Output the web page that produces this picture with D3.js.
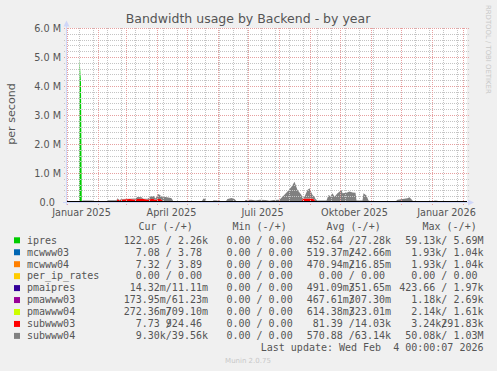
<!DOCTYPE html>
<html><head><meta charset="utf-8">
<script src="https://cdn.jsdelivr.net/npm/d3@7"></script>
<style>
html,body{margin:0;padding:0;background:#f0f0f0;}
svg{display:block;}
text{white-space:pre;}
</style></head><body>
<svg id="c" width="497" height="371"></svg>
<script>
// ---------------- data ----------------
const titleText = "Bandwidth usage by Backend - by year";
const domainStart = "2024-12-31T12:00", domainEnd = "2026-02-04T12:00";
const minorGridAnchor = "2025-01-13";
const dates = ["2024-12-31","2025-01-12T18:00","2025-01-13","2025-01-14T12:00","2025-01-15T06:00","2025-01-16","2025-01-26","2025-01-28",
 "2025-02-09","2025-02-10","2025-02-19","2025-02-20","2025-02-22","2025-02-24","2025-03-04","2025-03-10","2025-03-12","2025-03-16",
 "2025-03-18","2025-03-22","2025-03-26","2025-03-28","2025-03-30","2025-04-02","2025-04-04","2025-04-06","2025-04-09","2025-04-13",
 "2025-04-15","2025-04-16","2025-04-17","2025-05-15","2025-05-17","2025-05-19","2025-05-20","2025-05-26","2025-05-27","2025-05-31",
 "2025-06-01","2025-06-08","2025-06-10","2025-06-14","2025-06-17","2025-06-19","2025-06-27","2025-06-28","2025-07-04","2025-07-08",
 "2025-07-12","2025-07-18","2025-07-22","2025-07-26","2025-08-01","2025-08-04","2025-08-09","2025-08-13","2025-08-16","2025-08-19",
 "2025-08-23","2025-08-24","2025-08-26","2025-08-29","2025-08-31","2025-09-03","2025-09-05","2025-09-06","2025-09-08","2025-09-17",
 "2025-09-19","2025-09-21","2025-09-23","2025-09-25","2025-09-28","2025-10-02","2025-10-03","2025-10-07","2025-10-10","2025-10-13",
 "2025-10-16","2025-10-17","2025-10-23","2025-10-24","2025-10-27","2025-10-29","2025-11-01","2025-11-25","2025-11-27","2025-12-02",
 "2025-12-07","2025-12-09","2025-12-12","2025-12-13","2026-01-02","2026-01-03","2026-01-06","2026-01-07","2026-01-25","2026-01-26",
 "2026-01-28","2026-02-04"];
// values in millions of bytes per second
const ipres = [0,0,4.95,4.1,0,0,0,0, 0,0,0,0,0,0,0,0,0,0, 0,0,0,0,0,0,0,0,0,0, 0,0,0,0,0,0,0,0,0,0,
 0,0,0,0,0,0,0,0,0,0, 0,0,0,0,0,0,0,0,0,0, 0,0,0,0,0,0,0,0,0,0, 0,0,0,0,0,0,0,0,0,0, 0,0,0,0,0,0,0,0,0,0,
 0,0,0,0,0,0,0,0,0,0, 0,0];
const subwww03 = [0,0,0,0,0,0,0,0, 0,0,0,0.10,0.05,0.09,0.10,0.09,0.10,0.11, 0.10,0.09,0.10,0.10,0.08,0.10,0.10,0.05,0,0,
 0.03,0,0,0,0,0,0,0,0,0, 0,0,0,0,0,0,0,0,0,0, 0,0,0,0,0,0,0,0,0,0, 0,0.10,0.12,0.12,0.12,0.12,0.08,0,0,0,
 0,0,0,0,0,0,0,0,0,0, 0,0,0,0,0,0,0,0,0,0, 0,0,0,0,0,0,0,0,0,0, 0,0];
const subwww04 = [0.01,0.01,0,0,0.01,0.05,0.05,0.01, 0.01,0.06,0.06,0.03,0.02,0.01,0.01,0.03,0.07,0.05, 0.01,0.02,0.10,0.11,0.04,0.18,0.12,0.11,0.17,0.15,
 0.10,0.08,0.01,0.01,0.12,0.10,0.01,0.01,0.06,0.05, 0.01,0.01,0.10,0.14,0.10,0.03,0.02,0.07,0.08,0.05, 0.08,0.07,0.04,0.07,0.08,0.18,0.36,0.53,0.70,0.41,
 0.24,0.03,0.06,0.29,0.35,0.12,0.10,0.10,0.05,0.05, 0.24,0.20,0.30,0.18,0.30,0.41,0.30,0.32,0.36,0.33, 0.32,0.05,0.05,0.30,0.22,0.05,0.02,0.02,0.08,0.10,
 0.13,0.16,0.05,0.01,0.01,0.05,0.04,0.01,0.01,0.04, 0.01,0.01];

const yTickValues = [0,1e6,2e6,3e6,4e6,5e6,6e6];
const yTickLabels = ["0.0","1.0 M","2.0 M","3.0 M","4.0 M","5.0 M","6.0 M"];
const xLabelDates = ["2025-01-15","2025-04-15","2025-07-15","2025-10-15","2026-01-15"];
const xLabels = ["Januar 2025","April 2025","Juli 2025","Oktober 2025","Januar 2026"];

const legendNames = ["ipres","mcwww03","mcwww04","per_ip_rates","pmaipres","pmawww03","pmawww04","subwww03","subwww04"];
const legendColors = ["#00cc00","#0066b3","#ff8000","#ffcc00","#330099","#990099","#ccff00","#ff0000","#808080"];
const curNeg = ["122.05","7.08","7.32","0.00","14.32m","173.95m","272.36m","7.73","9.30k"];
const curPos = ["2.26k","3.78","3.89","0.00","11.11m","61.23m","709.10m","924.46","39.56k"];
const minNeg = ["0.00","0.00","0.00","0.00","0.00","0.00","0.00","0.00","0.00"];
const minPos = ["0.00","0.00","0.00","0.00","0.00","0.00","0.00","0.00","0.00"];
const avgNeg = ["452.64","519.37m","470.94m","0.00","491.09m","467.61m","614.38m","81.39","570.88"];
const avgPos = ["27.28k","242.66m","216.85m","0.00","351.65m","307.30m","323.01m","14.03k","63.14k"];
const maxNeg = ["59.13k","1.93k","1.93k","0.00","423.66","1.18k","2.14k","3.24k","50.08k"];
const maxPos = ["5.69M","1.04k","1.04k","0.00","1.97k","2.69k","1.61k","291.83k","1.03M"];
const headers = ["Cur (-/+)","Min (-/+)","Avg (-/+)","Max (-/+)"];
const lastUpdate = "Last update: Wed Feb  4 00:00:07 2026";
const footer = "Munin 2.0.75";
const watermark = "RRDTOOL / TOBI OETIKER";

// ---------------- drawing ----------------
const svg = d3.select("#c");
const FONT = "'DejaVu Sans', Verdana, sans-serif";
const MONO = "'DejaVu Sans Mono', monospace";
const TXT = "#555555";
const L = 67, R = 467, T = 28, B = 202;
const parse = s => new Date(s + (s.length === 10 ? "T00:00:00Z" : ":00Z"));

const x = d3.scaleUtc().domain([parse(domainStart), parse(domainEnd)]).range([L, R]);
const y = d3.scaleLinear().domain([0, 6e6]).range([B, T]);

svg.append("rect").attr("width",497).attr("height",371).attr("fill","#f0f0f0");
svg.append("rect").attr("x",L).attr("y",T).attr("width",R-L).attr("height",B-T).attr("fill","#ffffff");

// stacked areas
const rows = dates.map((d,i)=>({date:parse(d), ipres:ipres[i]*1e6, subwww03:subwww03[i]*1e6, subwww04:subwww04[i]*1e6}));
const keys = ["ipres","subwww03","subwww04"];
const colorOf = k => legendColors[legendNames.indexOf(k)];
const stacked = d3.stack().keys(keys)(rows);
svg.append("clipPath").attr("id","pc").append("rect").attr("x",L).attr("y",T-2).attr("width",R-L).attr("height",B-T+2);
const area = d3.area().x(d=>x(d.data.date)).y0(d=>y(d[0])).y1(d=>y(d[1])).curve(d3.curveLinear);
svg.append("g").attr("clip-path","url(#pc)").selectAll("path").data(stacked).join("path")
  .attr("d", area).attr("fill", d=>colorOf(d.key));

// grid
const grid = svg.append("g").attr("shape-rendering","crispEdges");
const minorC = "#c4c4c4", majorC = "#e6a0a0";
const px = v => Math.floor(v) + 0.5;
const hMinor = d3.range(1,30).map(i=>i*2e5).filter(v=>Math.round(v/1e5)%10!==0);
grid.selectAll(".hm").data(hMinor).join("line")
  .attr("x1",L-3).attr("x2",R+2).attr("y1",d=>Math.round(y(d))+0.5).attr("y2",d=>Math.round(y(d))+0.5)
  .attr("stroke",minorC).attr("stroke-dasharray","1,1");
const weeks = d3.utcMonday.range(parse(minorGridAnchor), x.domain()[1], 2);
grid.selectAll(".vm").data(weeks).join("line")
  .attr("x1",d=>px(x(d))).attr("x2",d=>px(x(d))).attr("y1",T).attr("y2",B+2)
  .attr("stroke",minorC).attr("stroke-dasharray","1,1");
grid.selectAll(".hM").data(yTickValues).join("line")
  .attr("x1",L-3).attr("x2",R+2).attr("y1",d=>Math.round(y(d))+0.5).attr("y2",d=>Math.round(y(d))+0.5)
  .attr("stroke",majorC).attr("stroke-dasharray","1,1");
const months = d3.utcMonth.range(x.domain()[0], x.domain()[1]);
grid.selectAll(".vM").data(months).join("line")
  .attr("x1",d=>px(x(d))).attr("x2",d=>px(x(d))).attr("y1",T).attr("y2",B+3)
  .attr("stroke",majorC).attr("stroke-dasharray","1,1");

// zero line
svg.append("line").attr("x1",L).attr("x2",R).attr("y1",201.5).attr("y2",201.5)
  .attr("stroke","#000").attr("stroke-width",1.2);

// axes
const AX = "#cfd6f8";
svg.append("line").attr("x1",66.5).attr("x2",66.5).attr("y1",B+3).attr("y2",24).attr("stroke",AX);
svg.append("path").attr("d","M63.5,26.5 L66.5,20.5 L69.5,26.5 Z").attr("fill",AX);
svg.append("line").attr("x1",63).attr("x2",470).attr("y1",202.5).attr("y2",202.5).attr("stroke",AX);
svg.append("path").attr("d","M468,199.5 L474,202.5 L468,205.5 Z").attr("fill",AX);

// y labels
svg.append("g").selectAll("text").data(yTickValues).join("text")
  .attr("x",(d,i)=>i===0?55:61).attr("y",d=>y(d)+3.5).attr("text-anchor","end")
  .attr("font-family",FONT).attr("font-size",9.7).attr("fill",TXT)
  .text((d,i)=>yTickLabels[i]);
// x labels
svg.append("g").selectAll("text").data(xLabelDates).join("text")
  .attr("x",d=>x(parse(d))).attr("y",216.3).attr("text-anchor","middle")
  .attr("font-family",FONT).attr("font-size",9.7).attr("fill",TXT)
  .text((d,i)=>xLabels[i]);

// title
svg.append("text").attr("x",248).attr("y",23).attr("text-anchor","middle")
  .attr("font-family",FONT).attr("font-size",12.5).attr("fill",TXT).text(titleText);
// unit
svg.append("text").attr("transform","translate(15,114) rotate(-90)").attr("text-anchor","middle")
  .attr("font-family",FONT).attr("font-size",11.1).attr("fill",TXT).text("per second");
// watermark
svg.append("text").attr("transform","translate(486,5) rotate(90)").attr("text-anchor","start")
  .attr("font-family",FONT).attr("font-size",6.9).attr("fill","#c8c8c8").text(watermark);

// legend
const leg = svg.append("g").attr("font-family",MONO).attr("font-size",10).attr("fill",TXT);
const probe = leg.append("text").text("0000000000");
const cw = probe.node().getComputedTextLength()/10;
probe.remove();
const hdrX = [138.5,232.5,326.5,422.5];
leg.selectAll(".hd").data(headers).join("text").attr("x",(d,i)=>hdrX[i]).attr("y",230.3).text(d=>d);
const rowY = i => 243.6 + i*11.95;
const fmt = s => (/[a-zA-Z]$/.test(s) ? s : s + " ").padStart(7, " ");
const lead = s => s.length - s.trimStart().length;
const cols = [[curNeg,curPos,208],[minNeg,minPos,298.7],[avgNeg,avgPos,391],[maxNeg,maxPos,483.5]];
legendNames.forEach((name,i)=>{
  const yy = rowY(i);
  leg.append("rect").attr("x",14).attr("y",yy-6.3).attr("width",6).attr("height",6).attr("fill",legendColors[i]);
  leg.append("text").attr("x",27).attr("y",yy).text(name);
  cols.forEach(([neg,pos,end])=>{
    const s = end - 14*cw;
    const n = fmt(neg[i]), p = fmt(pos[i]);
    leg.append("text").attr("x",s + lead(n)*cw).attr("y",yy).text(n.trim());
    leg.append("text").attr("x",s + 7*cw).attr("y",yy).text("/");
    leg.append("text").attr("x",s + (7+lead(p))*cw).attr("y",yy).text(p.trim());
  });
});
leg.append("text").attr("x",483.5).attr("y",351.3).attr("text-anchor","end").text(lastUpdate);
svg.append("text").attr("x",248).attr("y",362.8).attr("text-anchor","middle")
  .attr("font-family",FONT).attr("font-size",7).attr("fill","#c8c8c8").text(footer);
</script>
</body></html>
